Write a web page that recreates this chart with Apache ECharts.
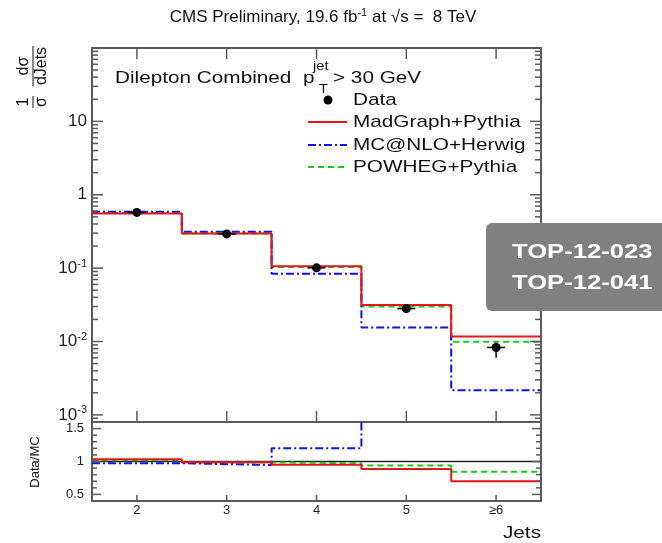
<!DOCTYPE html>
<html>
<head>
<meta charset="utf-8">
<script src="https://cdn.jsdelivr.net/npm/echarts@6/dist/echarts.min.js"></script>
<style>html,body{margin:0;padding:0;background:#fff}#chart{width:662px;height:543px}</style>
</head>
<body>
<div id="chart"></div>
<script>
// ---------- data ----------
const categories = ['2', '3', '4', '5', '≥6'];
const binCenters = [2, 3, 4, 5, 6];
const binEdges = [1.5, 2.5, 3.5, 4.5, 5.5, 6.5];

const dataVals = [0.575, 0.293, 0.101, 0.0281, 0.0083];
const dataErrUp = [0.008, 0.005, 0.003, 0.0015, 0.0014];
const dataErrDown = [0.008, 0.005, 0.003, 0.0015, 0.0023];

const madgraph = [0.557, 0.296, 0.106, 0.0315, 0.0117];
const mcatnlo = [0.588, 0.312, 0.084, 0.0155, 0.00217];
const powheg = [0.564, 0.297, 0.104, 0.030, 0.0099];

const ratioMadgraph = [1.035, 0.99, 0.95, 0.885, 0.70];
const ratioMcatnlo = [0.975, 0.945, 1.20, 1.81, 3.8];
const ratioPowheg = [1.02, 0.985, 0.975, 0.94, 0.845];

const logTickValues = [0.001, 0.01, 0.1, 1, 10];
const logTickBase = ['10', '10', '10', '1', '10'];
const logTickExp = ['-3', '-2', '-1', '', ''];
const ratioTickValues = [0.5, 1, 1.5];
const ratioTickLabels = ['0.5', '1', '1.5'];
const ratioMinorValues = [0.6, 0.7, 0.8, 0.9, 1.1, 1.2, 1.3, 1.4];

const legendNames = ['Data', 'MadGraph+Pythia', 'MC@NLO+Herwig', 'POWHEG+Pythia'];

// ---------- helpers ----------
const LOG_MIN = 0.0008, LOG_MAX = 100, R_MIN = 0.4, R_MAX = 1.6;
function stepData(vals) {
  return binEdges.map((e, i) => [e, vals[Math.min(i, vals.length - 1)]]);
}
const logMinor = [];
for (let p = -4; p <= 1; p++) {
  for (let k = 2; k <= 9; k++) {
    const v = +(k * Math.pow(10, p)).toPrecision(6);
    if (v > LOG_MIN && v < LOG_MAX) logMinor.push(v);
  }
}

const FRAME = '#5a5a5a';
const FONT = '"Liberation Sans", Arial, sans-serif';
const RED = '#e3161b', BLUE = '#1010ff', GREEN = '#10d010';
const SX = 1.22;

function frameAxisLine() { return { show: true, lineStyle: { color: FRAME, width: 2 } }; }

function logAxis(pos, labels) {
  return {
    type: 'log', gridIndex: 0, position: pos, min: LOG_MIN, max: LOG_MAX, logBase: 10,
    axisLine: frameAxisLine(),
    axisTick: { show: false },
    axisLabel: labels ? {
      show: true, margin: 5, customValues: logTickValues, fontFamily: FONT, color: '#222',
      formatter: function (v) {
        let idx = -1;
        logTickValues.forEach((t, i) => { if (Math.abs(Math.log10(t) - Math.log10(v)) < 1e-6) idx = i; });
        if (idx < 0) return '';
        return logTickExp[idx] ? '{b|' + logTickBase[idx] + '}{s|' + logTickExp[idx] + '}' : '{b|' + logTickBase[idx] + '}';
      },
      rich: {
        b: { fontSize: 17, fontFamily: FONT, color: '#222', lineHeight: 20 },
        s: { fontSize: 11, fontFamily: FONT, color: '#222', verticalAlign: 'top', lineHeight: 12 }
      }
    } : { show: false },
    splitLine: { show: false }, minorTick: { show: false }
  };
}
function ratioAxis(pos, labels) {
  return {
    type: 'value', gridIndex: 1, position: pos, min: R_MIN, max: R_MAX,
    axisLine: frameAxisLine(),
    axisTick: { show: false },
    axisLabel: labels ? {
      show: true, margin: 8, customValues: ratioTickValues, fontFamily: FONT, fontSize: 13, color: '#222',
      formatter: function (v) {
        const i = ratioTickValues.findIndex(t => Math.abs(t - v) < 1e-6);
        return i >= 0 ? ratioTickLabels[i] : '';
      }
    } : { show: false },
    splitLine: { show: false }
  };
}
function xAxisDef(grid, pos, labels) {
  return {
    type: 'value', gridIndex: grid, position: pos, min: 1.5, max: 6.5,
    axisLine: frameAxisLine(),
    axisTick: { show: false },
    axisLabel: labels ? {
      show: true, margin: 3, customValues: binCenters, fontFamily: FONT, fontSize: 13, color: '#222',
      formatter: function (v) {
        const i = binCenters.findIndex(t => Math.abs(t - v) < 1e-6);
        return i >= 0 ? categories[i] : '';
      }
    } : { show: false },
    splitLine: { show: false }
  };
}
function histSeries(vals, color, type, xi, yi, z) {
  return {
    type: 'line', step: 'end', xAxisIndex: xi, yAxisIndex: yi, data: stepData(vals),
    symbol: 'none', clip: true, z: z, silent: true,
    lineStyle: { color: color, width: 2, type: type }
  };
}

const dataPoints = binCenters.map((x, i) => [x, dataVals[i], dataVals[i] - dataErrDown[i], dataVals[i] + dataErrUp[i]]);

function txt(x, y, text, size, opts) {
  opts = opts || {};
  return {
    type: 'text', x: x, y: y, scaleX: opts.sx || SX, rotation: opts.rot || 0, z: 100,
    style: {
      text: text, fontSize: size, fontFamily: FONT, fill: opts.fill || '#111',
      fontWeight: opts.bold ? 'bold' : 'normal',
      textAlign: opts.align || 'left', textVerticalAlign: 'middle', rich: opts.rich
    }
  };
}

const option = {
  animation: false,
  backgroundColor: '#fff',
  grid: [
    { left: 92, right: 121, top: 48, bottom: 121, containLabel: false },
    { left: 92, right: 121, top: 422, bottom: 42, containLabel: false }
  ],
  xAxis: [
    xAxisDef(0, 'bottom', false),
    xAxisDef(0, 'top', false),
    xAxisDef(1, 'bottom', true),
    xAxisDef(1, 'top', false)
  ],
  yAxis: [
    logAxis('left', true),
    logAxis('right', false),
    ratioAxis('left', true),
    ratioAxis('right', false)
  ],
  series: [
    histSeries(powheg, GREEN, [6, 4], 0, 0, 2),
    histSeries(mcatnlo, BLUE, [8, 3, 2, 3], 0, 0, 3),
    histSeries(madgraph, RED, 'solid', 0, 0, 4),
    {
      type: 'custom', xAxisIndex: 0, yAxisIndex: 0, data: dataPoints, z: 10, silent: true,
      renderItem: function (params, api) {
        const c = api.coord([api.value(0), api.value(1)]);
        const lo = api.coord([api.value(0), api.value(2)]);
        const hi = api.coord([api.value(0), api.value(3)]);
        return {
          type: 'group', children: [
            { type: 'line', shape: { x1: c[0], y1: hi[1], x2: c[0], y2: lo[1] }, style: { stroke: '#000', lineWidth: 1.5 } },
            { type: 'line', shape: { x1: c[0] - 9, y1: c[1], x2: c[0] + 9, y2: c[1] }, style: { stroke: '#000', lineWidth: 1.5 } },
            { type: 'circle', shape: { cx: c[0], cy: c[1], r: 4.5 }, style: { fill: '#000' } }
          ]
        };
      }
    },
    {
      type: 'line', xAxisIndex: 2, yAxisIndex: 2, data: [[binEdges[0], 1], [binEdges[binEdges.length - 1], 1]],
      symbol: 'none', silent: true, z: 1, lineStyle: { color: '#222', width: 1.5 }
    },
    histSeries(ratioPowheg, GREEN, [6, 4], 2, 2, 2),
    histSeries(ratioMcatnlo, BLUE, [8, 3, 2, 3], 2, 2, 3),
    histSeries(ratioMadgraph, RED, 'solid', 2, 2, 4)
  ]
};

const graphicElements = [
  // title
  txt(323, 17, '{a|CMS Preliminary, 19.6 fb}{s|-1}{a| at \u221As =  8 TeV}', 17, {
    align: 'center', sx: 1.0,
    rich: { a: { fontSize: 17, fontFamily: FONT, fill: '#111', lineHeight: 20 }, s: { fontSize: 11, fontFamily: FONT, fill: '#111', verticalAlign: 'top', lineHeight: 12 } }
  }),
  // y-axis title (rotated fraction)
  {
    type: 'group', x: 33, y: 110, rotation: Math.PI / 2, z: 100,
    children: [
      { type: 'text', x: 8, y: -9, style: { text: '1', fontSize: 16, fontFamily: FONT, fill: '#111', textAlign: 'center', textVerticalAlign: 'middle' } },
      { type: 'text', x: 8, y: 9, style: { text: '\u03c3', fontSize: 16, fontFamily: FONT, fill: '#111', textAlign: 'center', textVerticalAlign: 'middle' } },
      { type: 'rect', shape: { x: 2, y: -0.5, width: 12, height: 1 }, style: { fill: '#111' } },
      { type: 'text', x: 44, y: -9, style: { text: 'd\u03c3', fontSize: 16, fontFamily: FONT, fill: '#111', textAlign: 'center', textVerticalAlign: 'middle' } },
      { type: 'text', x: 44, y: 9, style: { text: 'dJets', fontSize: 16, fontFamily: FONT, fill: '#111', textAlign: 'center', textVerticalAlign: 'middle' } },
      { type: 'rect', shape: { x: 24, y: -0.5, width: 40, height: 1 }, style: { fill: '#111' } }
    ]
  },
  // annotation
  txt(115, 78, 'Dilepton Combined', 17),
  txt(303, 78, 'p', 17),
  txt(313, 67, 'jet', 12),
  txt(319, 90, 'T', 12),
  txt(333, 78, '> 30 GeV', 17),
  // legend
  { type: 'circle', shape: { cx: 328, cy: 100, r: 4.5 }, style: { fill: '#000' }, z: 100 },
  txt(353, 100, legendNames[0], 17),
  { type: 'line', shape: { x1: 308, y1: 122, x2: 347, y2: 122 }, style: { stroke: RED, lineWidth: 2 }, z: 100 },
  txt(353, 122, legendNames[1], 17),
  { type: 'line', shape: { x1: 308, y1: 145, x2: 347, y2: 145 }, style: { stroke: BLUE, lineWidth: 2, lineDash: [8, 3, 2, 3] }, z: 100 },
  txt(353, 145, legendNames[2], 17),
  { type: 'line', shape: { x1: 308, y1: 167, x2: 347, y2: 167 }, style: { stroke: GREEN, lineWidth: 2, lineDash: [6, 4] }, z: 100 },
  txt(353, 167, legendNames[3], 17),
  // ratio y title
  txt(35, 462, 'Data/MC', 13, { align: 'center', rot: Math.PI / 2, sx: 1.0 }),
  // x title
  txt(541, 533, 'Jets', 17, { align: 'right' }),
  // TOP box
  { type: 'rect', shape: { x: 486, y: 223, width: 200, height: 88, r: 6 }, style: { fill: '#808080' }, z: 110 },
  Object.assign(txt(512, 252, 'TOP-12-023', 21, { bold: true, fill: '#fff' }), { z: 120 }),
  Object.assign(txt(512, 283, 'TOP-12-041', 21, { bold: true, fill: '#fff' }), { z: 120 })
];

const chart = echarts.init(document.getElementById('chart'), null, { renderer: 'canvas' });
chart.setOption(option);

// tick marks: positions obtained from the library's own axis scales
function tickLine(a, b) {
  return { type: 'line', z: 50, silent: true, shape: { x1: a[0], y1: a[1], x2: b[0], y2: b[1] }, style: { stroke: FRAME, lineWidth: 1.5 } };
}
function buildTicks() {
  const els = [];
  const xL = binEdges[0], xR = binEdges[binEdges.length - 1];
  function yTicks(finder, values, len) {
    values.forEach(function (v) {
      const pl = chart.convertToPixel(finder, [xL, v]);
      const pr = chart.convertToPixel(finder, [xR, v]);
      if (!pl || !pr) return;
      els.push(tickLine([pl[0], pl[1]], [pl[0] + len, pl[1]]));
      els.push(tickLine([pr[0] - len, pr[1]], [pr[0], pr[1]]));
    });
  }
  function xTicks(finder, yLo, yHi, len, both) {
    binCenters.forEach(function (x) {
      const pb = chart.convertToPixel(finder, [x, yLo]);
      const pt = chart.convertToPixel(finder, [x, yHi]);
      if (!pb || !pt) return;
      els.push(tickLine([pb[0], pb[1]], [pb[0], pb[1] - len]));
      if (both) els.push(tickLine([pt[0], pt[1]], [pt[0], pt[1] + len]));
    });
  }
  const mainF = { xAxisIndex: 0, yAxisIndex: 0 };
  const ratioF = { xAxisIndex: 2, yAxisIndex: 2 };
  yTicks(mainF, logTickValues, 11);
  yTicks(mainF, logMinor, 6);
  xTicks(mainF, LOG_MIN, LOG_MAX, 11, true);
  yTicks(ratioF, ratioTickValues, 9);
  yTicks(ratioF, ratioMinorValues, 5);
  xTicks(ratioF, R_MIN, R_MAX, 6, false);
  return els;
}
let tickEls = [];
try { tickEls = buildTicks(); } catch (e) { tickEls = []; }
chart.setOption({ graphic: tickEls.concat(graphicElements) });
</script>
</body>
</html>
